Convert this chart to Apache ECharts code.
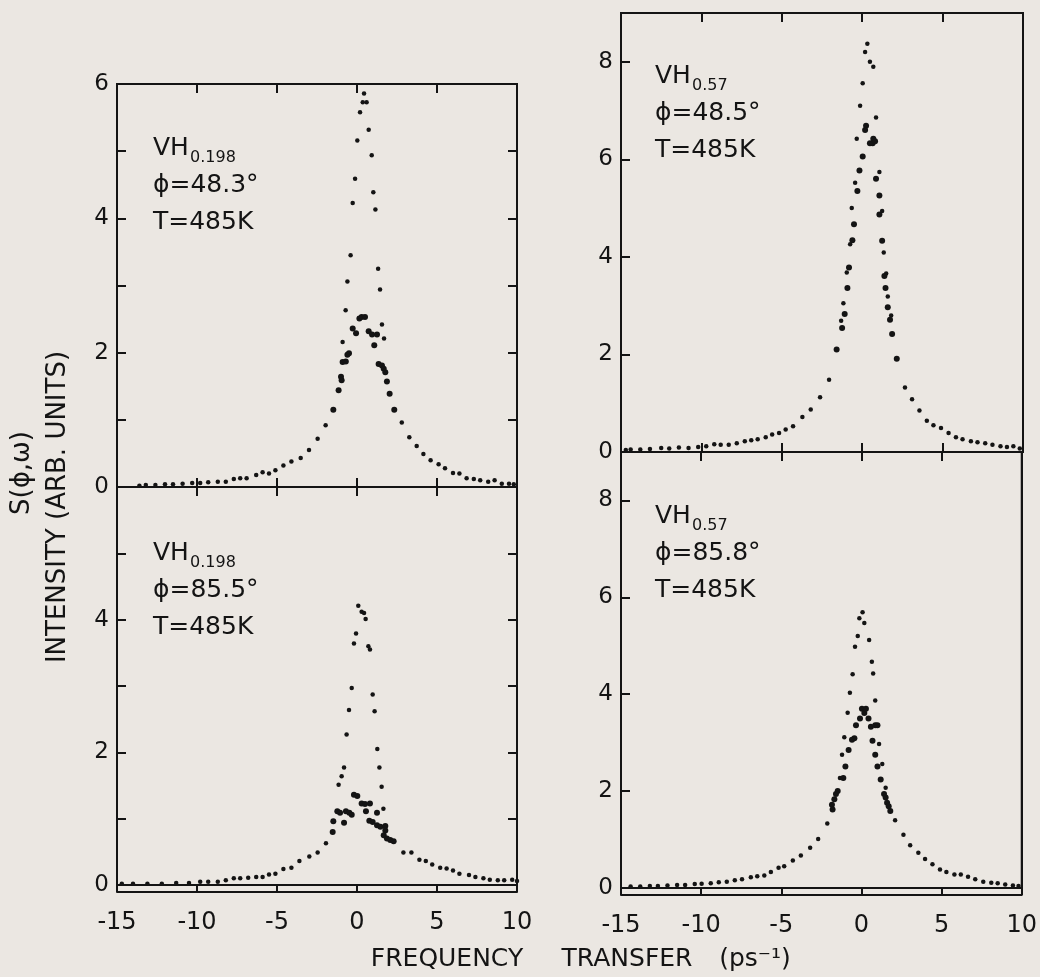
<!DOCTYPE html>
<html>
<head>
<meta charset="utf-8">
<script src="https://cdn.jsdelivr.net/npm/echarts@6/dist/echarts.min.js"></script>
<style>
html,body{margin:0;padding:0;background:#ebe7e2;}
#chart{width:1040px;height:977px;}
</style>
</head>
<body>
<div id="chart"></div>
<script>
// ---------- data (x: frequency transfer ps^-1, y: intensity) ----------
const xTicks = [-15, -10, -5, 0, 5, 10];

// Top-left: VH0.198, phi=48.3
const tlNarrow = [[0.44,5.86],[0.36,5.73],[0.6,5.73],[0.19,5.58],[0.73,5.32],[0.02,5.16],[0.92,4.94],[-0.12,4.59],[1.02,4.39],[-0.27,4.23],[1.15,4.13],[-0.4,3.45],[1.32,3.25],[-0.6,3.06],[1.44,2.94],[-0.71,2.63],[1.56,2.42],[-0.9,2.16],[1.69,2.21],
 [-1.96,0.92],[2.8,0.96],[-2.46,0.72],[3.27,0.74],[-3.0,0.55],[3.73,0.61],[-3.52,0.43],[4.15,0.49],[-4.1,0.38],[4.6,0.40],[-4.6,0.32],[5.1,0.34],[-5.1,0.25],[5.5,0.28],[-5.5,0.2],[-5.9,0.22],[6.0,0.21],[-6.3,0.18],[6.4,0.2],[-6.9,0.13],[-7.3,0.13],[-7.7,0.12],[6.85,0.13],[7.3,0.12],[7.7,0.1],[-8.2,0.08],[-8.7,0.08],[-9.3,0.07],[8.2,0.08],[8.6,0.1],[-9.8,0.06],[-10.3,0.06],[-10.9,0.05],[9.05,0.05],[9.5,0.05],[9.8,0.04],[-11.5,0.04],[-12.0,0.04],[-12.6,0.03],[-13.2,0.03],[-13.6,0.02]];
const tlBroad = [[0.29,2.53],[0.5,2.53],[0.15,2.51],[-0.27,2.36],[-0.06,2.29],[0.73,2.32],[0.94,2.27],[1.25,2.27],[1.08,2.11],[-0.5,1.99],[-0.6,1.97],[-0.9,1.86],[-0.7,1.87],[1.35,1.83],[1.56,1.81],[1.67,1.76],[1.77,1.71],[-1.0,1.64],[-0.96,1.59],[-1.15,1.44],[1.87,1.57],[2.04,1.39],[-1.48,1.15],[2.33,1.15]];

// Bottom-left: VH0.198, phi=85.5
const blNarrow = [[0.08,4.21],[0.29,4.12],[0.44,4.10],[0.54,4.01],[-0.06,3.79],[-0.19,3.64],[0.71,3.6],[0.81,3.55],[-0.33,2.97],[0.98,2.87],[-0.5,2.64],[1.1,2.62],[-0.65,2.27],[1.27,2.05],[-0.81,1.77],[1.4,1.77],[-0.96,1.64],[1.54,1.48],[-1.15,1.51],[1.65,1.15],
 [-1.94,0.63],[2.9,0.49],[3.4,0.49],[-2.46,0.49],[-2.98,0.43],[3.9,0.38],[4.3,0.36],[-3.6,0.36],[-4.1,0.26],[4.7,0.31],[5.2,0.26],[5.6,0.25],[-4.6,0.24],[-5.1,0.17],[-5.5,0.16],[6.0,0.22],[6.4,0.17],[7.0,0.15],[-5.9,0.12],[-6.3,0.12],[-6.8,0.11],[-7.3,0.1],[-7.7,0.1],[7.4,0.12],[7.9,0.1],[8.3,0.08],[8.8,0.07],[9.2,0.07],[9.7,0.08],[10.0,0.06],[-8.2,0.07],[-8.7,0.05],[-9.3,0.05],[-9.8,0.05],[-10.5,0.03],[-11.3,0.03],[-12.2,0.02],[-13.1,0.02],[-14.0,0.02],[-14.7,0.02]];
const blBroad = [[-0.19,1.36],[0.02,1.34],[0.29,1.23],[0.5,1.22],[0.81,1.23],[0.56,1.11],[-1.23,1.11],[-1.06,1.09],[-0.69,1.11],[-0.48,1.09],[-0.33,1.06],[1.25,1.09],[-1.48,0.96],[-0.81,0.94],[0.77,0.97],[0.98,0.95],[1.25,0.9],[1.46,0.88],[1.77,0.89],[-1.52,0.80],[1.77,0.82],[1.67,0.75],[1.87,0.70],[2.08,0.68],[2.29,0.66]];

// Top-right: VH0.57, phi=48.5
const trNarrow = [[0.32,8.37],[0.18,8.2],[0.48,8.0],[0.69,7.9],[0.03,7.56],[-0.13,7.1],[0.86,6.86],[-0.34,6.42],[1.07,5.74],[-0.44,5.52],[-0.65,5.0],[1.24,4.94],[-0.75,4.26],[1.34,4.09],[-0.96,3.68],[1.49,3.66],[-1.17,3.05],[1.59,3.19],[-1.31,2.69],[1.8,2.80],
 [-2.06,1.48],[2.66,1.32],[-2.62,1.12],[3.1,1.08],[-3.2,0.87],[3.56,0.85],[-3.72,0.72],[4.02,0.64],[4.43,0.55],[-4.3,0.53],[-4.76,0.46],[-5.17,0.39],[4.9,0.49],[5.37,0.39],[-5.6,0.36],[-6.0,0.3],[-6.5,0.26],[-6.9,0.24],[-7.3,0.22],[5.83,0.3],[6.24,0.26],[6.76,0.22],[7.17,0.2],[7.65,0.18],[8.1,0.15],[-7.8,0.18],[-8.3,0.15],[-8.8,0.15],[-9.2,0.16],[8.6,0.12],[9.0,0.1],[9.4,0.12],[9.8,0.07],[-9.7,0.12],[-10.2,0.1],[-10.8,0.08],[-11.4,0.09],[-12.0,0.07],[-12.5,0.08],[-13.2,0.06],[-13.8,0.05],[-14.4,0.05],[-14.7,0.04]];
const trBroad = [[0.24,6.69],[0.18,6.6],[0.03,6.06],[0.48,6.33],[0.65,6.33],[0.69,6.42],[0.8,6.37],[-0.17,5.77],[0.86,5.6],[-0.3,5.35],[1.07,5.26],[-0.51,4.67],[1.07,4.87],[-0.61,4.34],[1.24,4.33],[-0.82,3.78],[1.38,3.61],[-0.92,3.36],[1.45,3.36],[-1.09,2.83],[1.59,2.97],[-1.25,2.54],[1.73,2.71],[1.86,2.42],[-1.59,2.10],[2.15,1.91]];

// Bottom-right: VH0.57, phi=85.8
const brNarrow = [[0.07,5.69],[-0.13,5.57],[0.18,5.47],[-0.23,5.2],[0.48,5.12],[-0.4,4.98],[0.65,4.67],[-0.55,4.41],[0.73,4.43],[-0.72,4.03],[0.86,3.87],[-0.86,3.62],[1.1,2.97],[-1.07,3.11],[-1.21,2.75],[1.3,2.56],[-1.34,2.27],[1.51,2.07],
 [-2.13,1.33],[2.1,1.4],[-2.7,1.01],[2.62,1.1],[-3.2,0.83],[3.04,0.88],[-3.78,0.67],[3.55,0.73],[-4.28,0.57],[3.97,0.6],[-4.82,0.45],[-5.17,0.42],[4.43,0.49],[4.9,0.38],[-5.65,0.33],[-6.06,0.26],[-6.5,0.24],[-6.9,0.22],[-7.45,0.18],[-7.9,0.16],[5.3,0.33],[5.8,0.28],[6.2,0.28],[6.65,0.23],[7.1,0.18],[7.6,0.13],[8.1,0.11],[8.5,0.1],[8.97,0.07],[9.45,0.05],[9.8,0.04],[-8.4,0.13],[-8.9,0.12],[-9.4,0.1],[-9.97,0.09],[-10.4,0.08],[-11.0,0.06],[-11.5,0.06],[-12.1,0.05],[-12.7,0.04],[-13.2,0.04],[-13.8,0.03],[-14.4,0.03]];
const brBroad = [[0.03,3.7],[0.28,3.7],[0.18,3.61],[-0.09,3.5],[0.44,3.5],[0.59,3.33],[0.86,3.36],[1.0,3.36],[-0.34,3.36],[-0.44,3.09],[-0.59,3.06],[0.69,3.04],[-0.8,2.85],[0.86,2.75],[-1.0,2.51],[1.0,2.51],[-1.13,2.27],[1.2,2.24],[-1.48,2.0],[-1.59,1.94],[1.41,1.94],[1.51,1.87],[-1.69,1.83],[-1.84,1.72],[-1.8,1.62],[1.6,1.76],[1.7,1.69],[1.8,1.59]];

// panel annotations
const panelLabels = [
  {vh:'VH', sub:'0.198', phi:'ϕ=48.3°', t:'T=485K'},
  {vh:'VH', sub:'0.198', phi:'ϕ=85.5°', t:'T=485K'},
  {vh:'VH', sub:'0.57',  phi:'ϕ=48.5°', t:'T=485K'},
  {vh:'VH', sub:'0.57',  phi:'ϕ=85.8°', t:'T=485K'}
];
const xTitle = ['FREQUENCY', 'TRANSFER', '(ps⁻¹)'];
const yTitle = ['S(ϕ,ω)', 'INTENSITY (ARB. UNITS)'];

// ---------- layout ----------
const INK = '#141414';
const FONT = 'DejaVu Sans';
const panels = [
  {grid:{left:117, top:84,  width:400, height:403}, ymax:6, yint:1, showX:false, labelMax:6, rightTicks:true,  xOff:0, data:[tlNarrow, tlBroad], ann:[153,148]},
  {grid:{left:117, top:487, width:400, height:398}, ymax:6, yint:1, showX:true,  labelMax:4, rightTicks:true,  xOff:7, data:[blNarrow, blBroad], ann:[153,553]},
  {grid:{left:621, top:13,  width:402, height:439}, ymax:9, yint:2, showX:false, labelMax:8, rightTicks:false, xOff:0, data:[trNarrow, trBroad], ann:[655,76]},
  {grid:{left:621, top:452, width:402, height:436}, ymax:9, yint:2, showX:true,  labelMax:8, rightTicks:false, xOff:7, data:[brNarrow, brBroad], ann:[655,516]}
];

const grid = [], xAxis = [], yAxis = [], series = [], graphic = [];
const lineStyle = {color: INK, width: 2};
panels.forEach((p, i) => {
  grid.push(Object.assign({show:true, borderColor:INK, borderWidth:2, backgroundColor:'transparent', containLabel:false}, p.grid));
  // bottom x
  xAxis.push({type:'value', gridIndex:i, position:'bottom', min:-15, max:10, interval:5, offset:p.xOff,
    axisLine:{show:true, onZero:false, lineStyle}, axisTick:{show:true, inside:true, length:p.xOff ? 7 : 9, lineStyle},
    axisLabel:{show:p.showX, color:INK, fontFamily:FONT, fontSize:24, margin:19},
    splitLine:{show:false}});
  // top x
  xAxis.push({type:'value', gridIndex:i, position:'top', min:-15, max:10, interval:5,
    axisLine:{show:true, onZero:false, lineStyle}, axisTick:{show:true, inside:true, length:9, lineStyle},
    axisLabel:{show:false}, splitLine:{show:false}});
  // left y
  yAxis.push({type:'value', gridIndex:i, position:'left', min:0, max:p.ymax, interval:p.yint,
    axisLine:{show:true, onZero:false, lineStyle}, axisTick:{show:true, inside:true, length:9, lineStyle},
    axisLabel:{show:true, color:INK, fontFamily:FONT, fontSize:23, margin:8,
      formatter:(v)=> (v % 2 === 0 && v <= p.labelMax) ? String(v) : ''},
    splitLine:{show:false}});
  // right y
  yAxis.push({type:'value', gridIndex:i, position:'right', min:0, max:p.ymax, interval:p.yint,
    axisLine:{show:true, onZero:false, lineStyle}, axisTick:{show:p.rightTicks, inside:true, length:9, lineStyle},
    axisLabel:{show:false}, splitLine:{show:false}});
  series.push({type:'scatter', xAxisIndex:2*i, yAxisIndex:2*i, data:p.data[0], symbol:'circle', symbolSize:4.5,
    itemStyle:{color:INK, opacity:1}, silent:true, animation:false});
  series.push({type:'scatter', xAxisIndex:2*i, yAxisIndex:2*i, data:p.data[1], symbol:'circle', symbolSize:6,
    itemStyle:{color:INK, opacity:1}, silent:true, animation:false});
  // annotations
  const L = panelLabels[i];
  const [ax, ay] = p.ann;
  const txt = (text, x, y, size) => ({type:'text', x, y, silent:true,
    style:{text, fill:INK, font:`${size}px "${FONT}"`, textAlign:'left', textVerticalAlign:'middle'}});
  graphic.push(txt(L.vh, ax, ay, 25));
  graphic.push(txt(L.sub, ax + 37, ay + 10, 16));
  graphic.push(txt(L.phi, ax, ay + 37, 25));
  graphic.push(txt(L.t, ax, ay + 74, 25));
});

// axis titles
const ctext = (text, x, y, size, rot) => ({type:'text', x, y, rotation:rot || 0, silent:true,
  style:{text, fill:INK, font:`${size}px "${FONT}"`, textAlign:'center', textVerticalAlign:'middle'}});
graphic.push(ctext(xTitle[0], 447, 959, 25));
graphic.push(ctext(xTitle[1], 627, 959, 25));
graphic.push(ctext(xTitle[2], 755, 959, 25));
graphic.push(ctext(yTitle[0], 22, 473, 26, Math.PI/2));
graphic.push(ctext(yTitle[1], 58, 507, 26, Math.PI/2));

const chart = echarts.init(document.getElementById('chart'), null, {renderer:'canvas'});
chart.setOption({
  backgroundColor:'#ebe7e2',
  animation:false,
  grid, xAxis, yAxis, series, graphic
});
</script>
</body>
</html>
